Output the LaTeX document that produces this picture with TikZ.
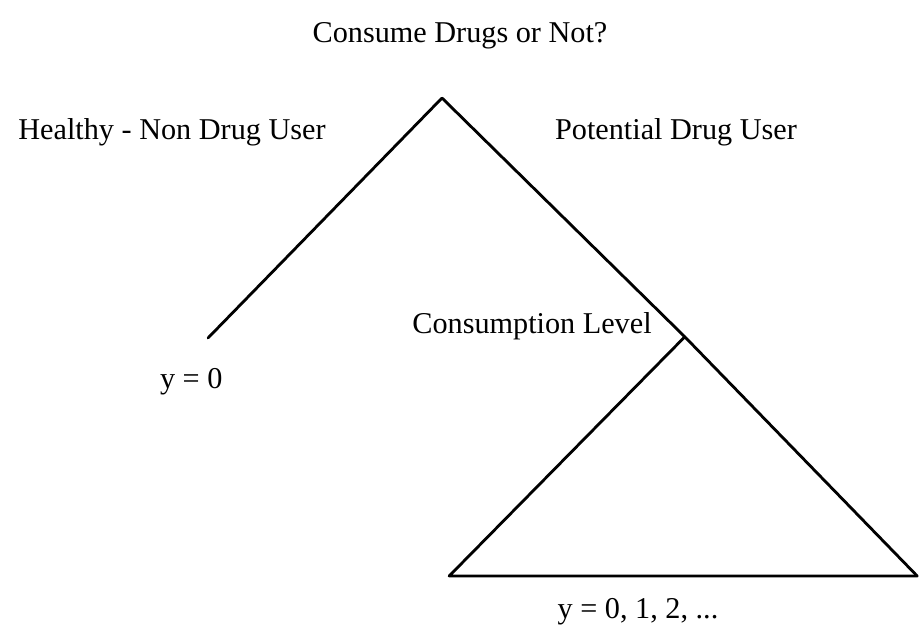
\documentclass[tikz,border=0pt]{standalone}
\usepackage{fontspec}
\setmainfont{Liberation Serif}
\usepackage{tikz}

\begin{document}
\begin{tikzpicture}[
            branch/.style = {
                draw, line width = 2pt,
                line cap = round, line join = round,
            },
            label/.style = {
                align=center,
                font = \fontsize{21.5}{25}\selectfont,
            },
        ]
        \useasboundingbox (0,0) rectangle (22.975,-15.7);

        % Knopen van de boom
        \coordinate (root) at (11.05,-2.45);
        \coordinate (healthy) at (5.2,-8.45);
        \coordinate (potential) at (17.12,-8.42);
        \coordinate (level_left) at (11.23,-14.4);
        \coordinate (level_right) at (22.93,-14.4);

        % Teksten
        \node[label] (question) at (11.5,-0.9) {Consume Drugs or Not?};
        \node[label] (healthy_text) at (4.3,-3.3) {Healthy - Non Drug User};
        \node[label] (potential_text) at (16.9,-3.3) {Potential Drug User};
        \node[label] (level_text) at (13.3,-8.15) {Consumption Level};
        \node[label] (zero_text) at (4.78,-9.55) {y = 0};
        \node[label] (count_text) at (15.95,-15.3) {y = 0, 1, 2, ...};

        % Takken
        \path[branch]
            (root) -- (healthy)
            (root) -- (potential) -- (level_right);

        \path[branch]
            (potential) -- (level_left) -- (level_right);
    \end{tikzpicture}
\end{document}
